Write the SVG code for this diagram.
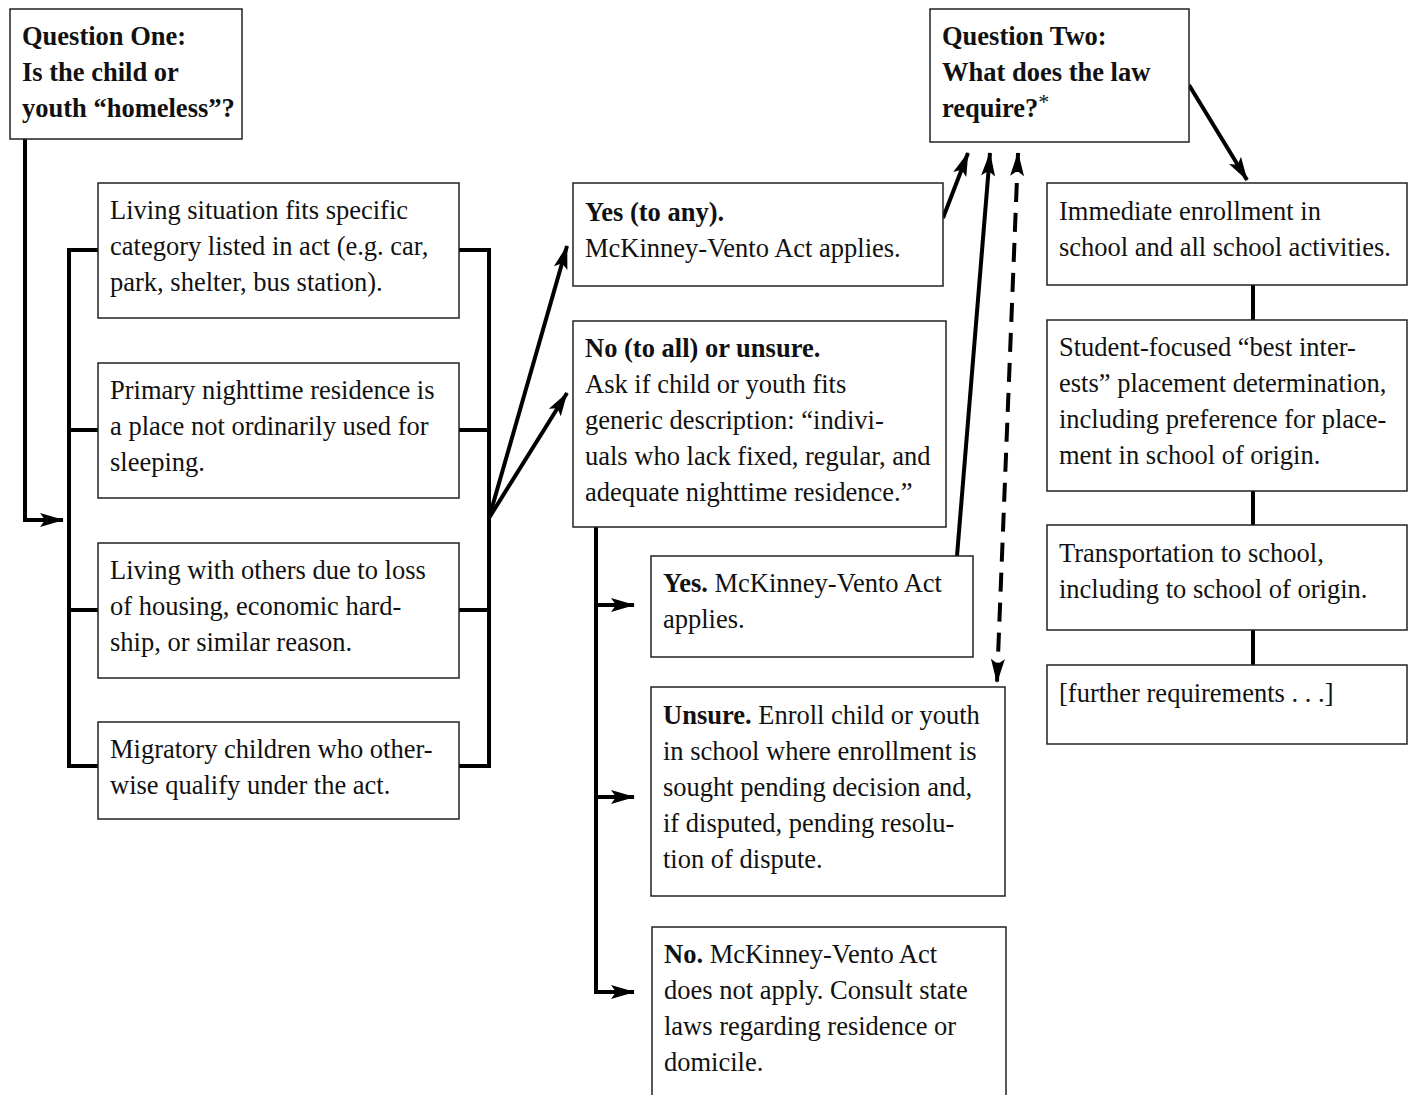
<svg xmlns="http://www.w3.org/2000/svg" width="1414" height="1095" viewBox="0 0 1414 1095">
<style>
.box{fill:#fff;stroke:#222;stroke-width:1.5}
text{font-family:"Liberation Serif","DejaVu Serif",serif;font-size:26.5px;fill:#111}
.b{font-weight:bold}
.c{fill:none;stroke:#000;stroke-width:4}
.d{fill:none;stroke:#000;stroke-width:4;stroke-dasharray:19 11}
</style>
<defs>
<marker id="ah" viewBox="0 0 24 14" markerUnits="userSpaceOnUse" markerWidth="24" markerHeight="14" refX="23" refY="7" orient="auto-start-reverse" overflow="visible">
<path d="M0,0 L24,7 L0,14 L5,7 z" fill="#000" stroke="none"/>
</marker>
</defs>
<g id="connectors">
<polyline class="c" points="25,139 25,520 63,520" marker-end="url(#ah)"/>
<line class="c" x1="69" y1="248" x2="69" y2="768"/>
<line class="c" x1="67" y1="250" x2="98" y2="250"/>
<line class="c" x1="69" y1="430" x2="98" y2="430"/>
<line class="c" x1="69" y1="610" x2="98" y2="610"/>
<line class="c" x1="67" y1="766" x2="98" y2="766"/>
<line class="c" x1="489" y1="248" x2="489" y2="768"/>
<line class="c" x1="459" y1="250" x2="491" y2="250"/>
<line class="c" x1="459" y1="430" x2="489" y2="430"/>
<line class="c" x1="459" y1="610" x2="489" y2="610"/>
<line class="c" x1="459" y1="766" x2="491" y2="766"/>
<line class="c" x1="489" y1="518" x2="567" y2="246" marker-end="url(#ah)"/>
<line class="c" x1="489" y1="518" x2="567" y2="393" marker-end="url(#ah)"/>
<polyline class="c" points="596,527 596,992 634,992" marker-end="url(#ah)"/>
<line class="c" x1="596" y1="605" x2="634" y2="605" marker-end="url(#ah)"/>
<line class="c" x1="596" y1="797" x2="634" y2="797" marker-end="url(#ah)"/>
<line class="c" x1="943" y1="218" x2="968" y2="153" marker-end="url(#ah)"/>
<line class="c" x1="957" y1="556" x2="990" y2="153" marker-end="url(#ah)"/>
<line class="d" x1="1018" y1="153" x2="997" y2="682" marker-start="url(#ah)" marker-end="url(#ah)"/>
<line class="c" x1="1189" y1="85" x2="1247" y2="180" marker-end="url(#ah)"/>
<line class="c" x1="1253" y1="285" x2="1253" y2="320"/>
<line class="c" x1="1253" y1="491" x2="1253" y2="525"/>
<line class="c" x1="1253" y1="630" x2="1253" y2="665"/>
</g>
<g id="q1">
<rect class="box" x="10" y="9" width="232" height="130"/>
<text class="b" x="22" y="45">Question One:</text>
<text class="b" x="22" y="81">Is the child or</text>
<text class="b" x="22" y="117">youth “homeless”?</text>
</g>
<g id="c1">
<rect class="box" x="98" y="183" width="361" height="135"/>
<text x="110" y="219">Living situation fits specific</text>
<text x="110" y="255">category listed in act (e.g. car,</text>
<text x="110" y="291">park, shelter, bus station).</text>
</g>
<g id="c2">
<rect class="box" x="98" y="363" width="361" height="135"/>
<text x="110" y="399">Primary nighttime residence is</text>
<text x="110" y="435">a place not ordinarily used for</text>
<text x="110" y="471">sleeping.</text>
</g>
<g id="c3">
<rect class="box" x="98" y="543" width="361" height="135"/>
<text x="110" y="579">Living with others due to loss</text>
<text x="110" y="615">of housing, economic hard-</text>
<text x="110" y="651">ship, or similar reason.</text>
</g>
<g id="c4">
<rect class="box" x="98" y="722" width="361" height="97"/>
<text x="110" y="758">Migratory children who other-</text>
<text x="110" y="794">wise qualify under the act.</text>
</g>
<g id="yesany">
<rect class="box" x="573" y="183" width="370" height="103"/>
<text class="b" x="585" y="221">Yes (to any).</text>
<text x="585" y="257">McKinney-Vento Act applies.</text>
</g>
<g id="noall">
<rect class="box" x="573" y="321" width="373" height="206"/>
<text class="b" x="585" y="357">No (to all) or unsure.</text>
<text x="585" y="393">Ask if child or youth fits</text>
<text x="585" y="429">generic description: “indivi-</text>
<text x="585" y="465">uals who lack fixed, regular, and</text>
<text x="585" y="501">adequate nighttime residence.”</text>
</g>
<g id="yes2">
<rect class="box" x="651" y="556" width="322" height="101"/>
<text x="663" y="592"><tspan class="b">Yes.</tspan> McKinney-Vento Act</text>
<text x="663" y="628">applies.</text>
</g>
<g id="unsure">
<rect class="box" x="651" y="687" width="354" height="209"/>
<text x="663" y="724"><tspan class="b">Unsure.</tspan> Enroll child or youth</text>
<text x="663" y="760">in school where enrollment is</text>
<text x="663" y="796">sought pending decision and,</text>
<text x="663" y="832">if disputed, pending resolu-</text>
<text x="663" y="868">tion of dispute.</text>
</g>
<g id="no2">
<rect class="box" x="652" y="927" width="354" height="180"/>
<text x="664" y="963"><tspan class="b">No.</tspan> McKinney-Vento Act</text>
<text x="664" y="999">does not apply. Consult state</text>
<text x="664" y="1035">laws regarding residence or</text>
<text x="664" y="1071">domicile.</text>
</g>
<g id="q2">
<rect class="box" x="930" y="9" width="259" height="133"/>
<text class="b" x="942" y="45">Question Two:</text>
<text class="b" x="942" y="81">What does the law</text>
<text class="b" x="942" y="117">require?<tspan font-size="22" font-weight="normal" dy="-8">*</tspan></text>
</g>
<g id="r1">
<rect class="box" x="1047" y="183" width="360" height="102"/>
<text x="1059" y="220">Immediate enrollment in</text>
<text x="1059" y="256">school and all school activities.</text>
</g>
<g id="r2">
<rect class="box" x="1047" y="320" width="360" height="171"/>
<text x="1059" y="356">Student-focused “best inter-</text>
<text x="1059" y="392">ests” placement determination,</text>
<text x="1059" y="428">including preference for place-</text>
<text x="1059" y="464">ment in school of origin.</text>
</g>
<g id="r3">
<rect class="box" x="1047" y="525" width="360" height="105"/>
<text x="1059" y="562">Transportation to school,</text>
<text x="1059" y="598">including to school of origin.</text>
</g>
<g id="r4">
<rect class="box" x="1047" y="665" width="360" height="79"/>
<text x="1059" y="702">[further requirements . . .]</text>
</g>
</svg>
